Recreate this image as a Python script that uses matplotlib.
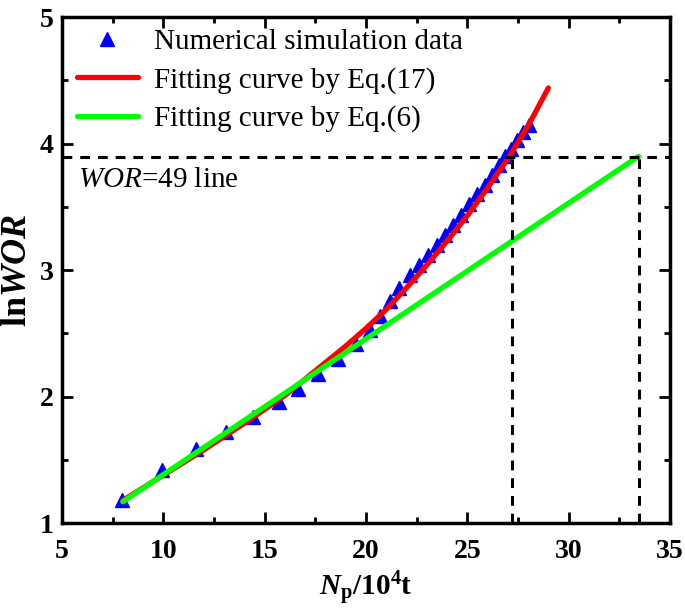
"""lnWOR versus cumulative oil production, simulation data and two fits"""

import numpy as np
import matplotlib
matplotlib.use("Agg")
import matplotlib.pyplot as plt
from matplotlib.ticker import MultipleLocator


# numerical simulation data (Np in 10^4 t, lnWOR)
sim_np = [7.95, 9.95, 11.6, 13.1, 14.45, 15.7, 16.65, 17.65, 18.6, 19.5,
          20.2, 20.7, 21.2, 21.65, 22.15, 22.6, 23.05, 23.5, 23.9, 24.3,
          24.7, 25.1, 25.5, 25.85, 26.2, 26.55, 26.85, 27.15, 27.45, 27.75, 28.05]
sim_lnwor = [1.18, 1.42, 1.59, 1.72, 1.84, 1.96, 2.06, 2.18, 2.30, 2.42,
             2.53, 2.64, 2.76, 2.86, 2.96, 3.04, 3.12, 3.20, 3.28, 3.36,
             3.44, 3.52, 3.60, 3.67, 3.75, 3.83, 3.90, 3.96, 4.03, 4.09, 4.15]

# fitting curve by Eq.(17)
fit17_np = [8, 10, 12, 14, 16, 18, 19, 20, 21, 22, 23, 24, 25, 26, 27, 28, 29]
fit17_lnwor = [1.18, 1.38, 1.58, 1.79, 2.01, 2.27, 2.40, 2.54, 2.69, 2.86,
               3.04, 3.23, 3.43, 3.65, 3.88, 4.14, 4.44]

# fitting curve by Eq.(6) (straight line)
fit6_np = [8.0, 33.45]
fit6_lnwor = [1.17, 3.90]

# WOR = 49 limit and where each curve reaches it
wor_limit = np.log(49)
np_at_limit = [27.2, 33.45]


plt.rcParams["font.family"] = "Liberation Serif"
plt.rcParams["mathtext.fontset"] = "custom"
plt.rcParams["mathtext.rm"] = "Liberation Serif"
plt.rcParams["mathtext.it"] = "Liberation Serif:italic"
plt.rcParams["mathtext.bf"] = "Liberation Serif:bold"
plt.rcParams["mathtext.bfit"] = "Liberation Serif:italic:bold"

fig = plt.figure(figsize=(6.85, 6.12), dpi=100)
ax = fig.add_axes([0.0905, 0.145, 0.8875, 0.827])

ax.plot(sim_np, sim_lnwor, "^", color="#0000ff", markersize=10,
        label="Numerical simulation data", zorder=3)
ax.plot(fit17_np, fit17_lnwor, "-", color="#ff0000", lw=3.8,
        solid_capstyle="round", label="Fitting curve by Eq.(17)", zorder=4)
ax.plot(fit6_np, fit6_lnwor, "-", color="#00ff00", lw=3.8,
        solid_capstyle="round", label="Fitting curve by Eq.(6)", zorder=5)

dash = (0, (3.2, 2.6))
ax.axhline(wor_limit, color="black", lw=2.2, linestyle=dash, zorder=6)
for xv in np_at_limit:
    ax.plot([xv, xv], [1, wor_limit], color="black", lw=2.2, linestyle=dash, zorder=6)

ax.text(5.8, 3.71, r"$\it{WOR}$=49 line", fontsize=21, ha="left", va="center")

ax.set_xlim(5, 35)
ax.set_ylim(1, 5)
ax.xaxis.set_major_locator(MultipleLocator(5))
ax.xaxis.set_minor_locator(MultipleLocator(2.5))
ax.yaxis.set_major_locator(MultipleLocator(1))
ax.yaxis.set_minor_locator(MultipleLocator(0.5))
ax.tick_params(which="both", direction="in", top=True, right=True, width=2)
ax.tick_params(which="major", length=8, labelsize=20)
ax.tick_params(which="minor", length=4)
ax.tick_params(axis="x", which="major", pad=11)
ax.tick_params(axis="y", which="major", pad=6)
for lab in ax.get_xticklabels() + ax.get_yticklabels():
    lab.set_fontweight("bold")
for sp in ax.spines.values():
    sp.set_linewidth(2.5)

ax.set_xlabel(r"$\mathbfit{N}_\mathbf{p}\mathbf{/10^4t}$", fontsize=21, labelpad=4)
ax.set_ylabel(r"ln$\mathbfit{WOR}$", fontsize=26, fontweight="bold", labelpad=4)

ax.legend(loc="upper left", frameon=False, fontsize=21, handlelength=2.1,
          handletextpad=0.55, labelspacing=0.4, borderaxespad=0.0,
          bbox_to_anchor=(0.005, 1.0))

fig.savefig("out.png", dpi=100)
